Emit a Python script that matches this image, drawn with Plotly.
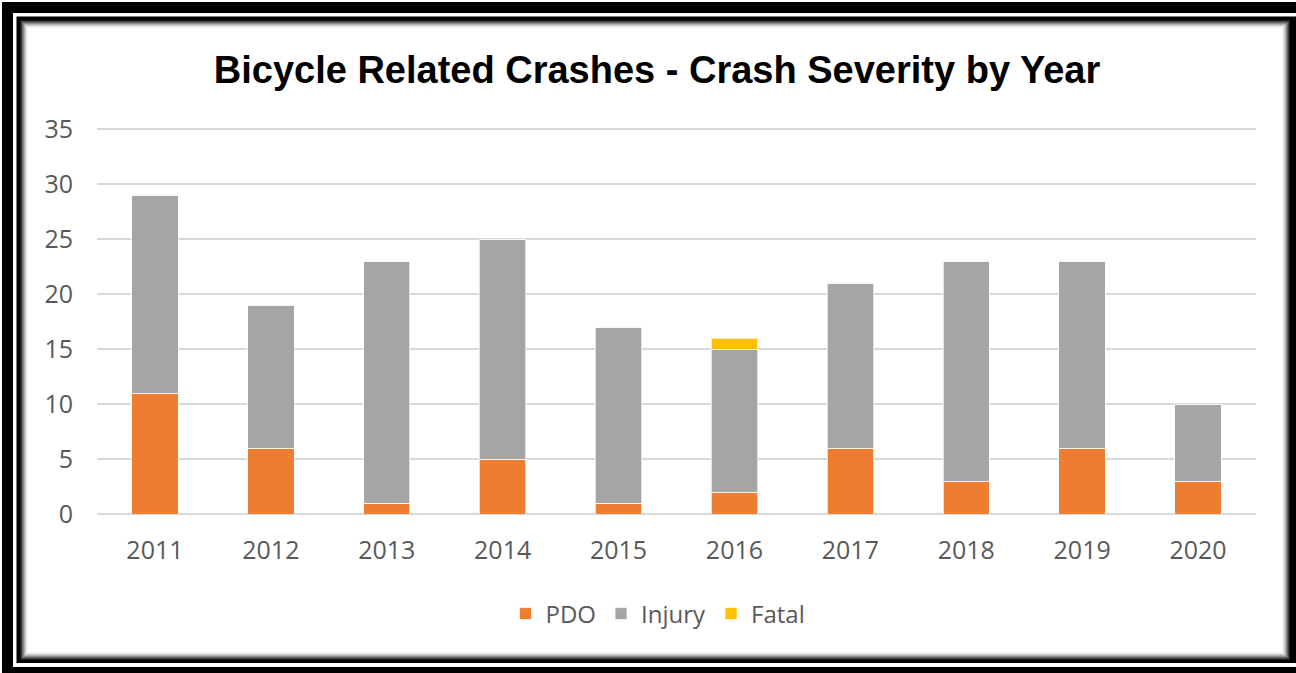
import plotly.graph_objects as go

years = ["2011", "2012", "2013", "2014", "2015", "2016", "2017", "2018", "2019", "2020"]
pdo = [11, 6, 1, 5, 1, 2, 6, 3, 6, 3]
injury = [18, 13, 22, 20, 16, 13, 15, 20, 17, 7]
fatal = [0, 0, 0, 0, 0, 1, 0, 0, 0, 0]
y_ticks = [0, 5, 10, 15, 20, 25, 30, 35]

W, H = 1296, 673
ML, MR, MT, MB = 97, 40, 127, 159
PW, PH = W - ML - MR, H - MT - MB

def px(x):
    return (x - ML) / PW

def py(y):
    return (H - MB - y) / PH

def rect(x0, y0, x1, y1, color):
    return dict(type="rect", xref="paper", yref="paper", layer="below",
                x0=px(x0), x1=px(x1), y0=py(y1), y1=py(y0),
                fillcolor=color, line=dict(width=0))

shapes = [
    rect(-5, -5, 1310, 690, "#ffffff"),
    rect(2, 2, 1310, 690, "#000000"),
    rect(13, 13, 1310, 667, "#ffffff"),
    rect(16.5, 16.5, 1310, 663, "#000000"),
]
shade = ["#1a1a1a", "#404040", "#666666", "#8c8c8c", "#b0b0b0", "#cfcfcf", "#e6e6e6", "#f5f5f5"]
for i, c in enumerate(shade):
    shapes.append(rect(20 + i, 20 + i, 1290 - i, 660 - i, c))
shapes.append(rect(28, 28, 1282, 652, "#ffffff"))

fig = go.Figure()
line = dict(color="rgba(255,255,255,0.7)", width=1)
fig.add_trace(go.Bar(x=years, y=pdo, name="PDO", marker=dict(color="#ED7D31", line=line)))
fig.add_trace(go.Bar(x=years, y=injury, name="Injury", marker=dict(color="#A5A5A5", line=line)))
fig.add_trace(go.Bar(x=years, y=fatal, name="Fatal", marker=dict(color="#FFC000", line=line)))

tickfont = dict(family="Open Sans", size=25, color="#595959")
legfont = dict(family="Open Sans", size=24, color="#595959")
fig.update_layout(
    width=W, height=H,
    margin=dict(l=ML, r=MR, t=MT, b=MB, pad=0),
    barmode="stack", bargap=0.6,
    paper_bgcolor="#ffffff", plot_bgcolor="rgba(0,0,0,0)",
    shapes=shapes,
    title=dict(text="<b>Bicycle Related Crashes - Crash Severity by Year</b>",
               font=dict(family="Liberation Sans, Arial", size=38, color="#000000"),
               x=657 / W, xanchor="center", xref="container",
               y=1 - 70 / H, yanchor="middle", yref="container"),
    xaxis=dict(showgrid=False, showline=False, ticks="", tickfont=tickfont,
               ticklabelstandoff=19, zeroline=False),
    yaxis=dict(range=[0, 35.2], tickvals=y_ticks, showgrid=True, gridcolor="#D9D9D9",
               gridwidth=2, zeroline=True, zerolinecolor="#D9D9D9", zerolinewidth=2,
               showline=False, ticks="", tickfont=tickfont, ticklabelstandoff=23),
    legend=dict(orientation="h", x=658 / W, xanchor="center", xref="container",
                y=1 - 614 / H, yanchor="middle", yref="container",
                font=legfont, bgcolor="rgba(0,0,0,0)", traceorder="normal"),
    showlegend=True,
)

fig.write_html("out.html", config={"displayModeBar": False},
               post_script="document.body.style.margin='0';document.body.style.overflow='hidden';")
